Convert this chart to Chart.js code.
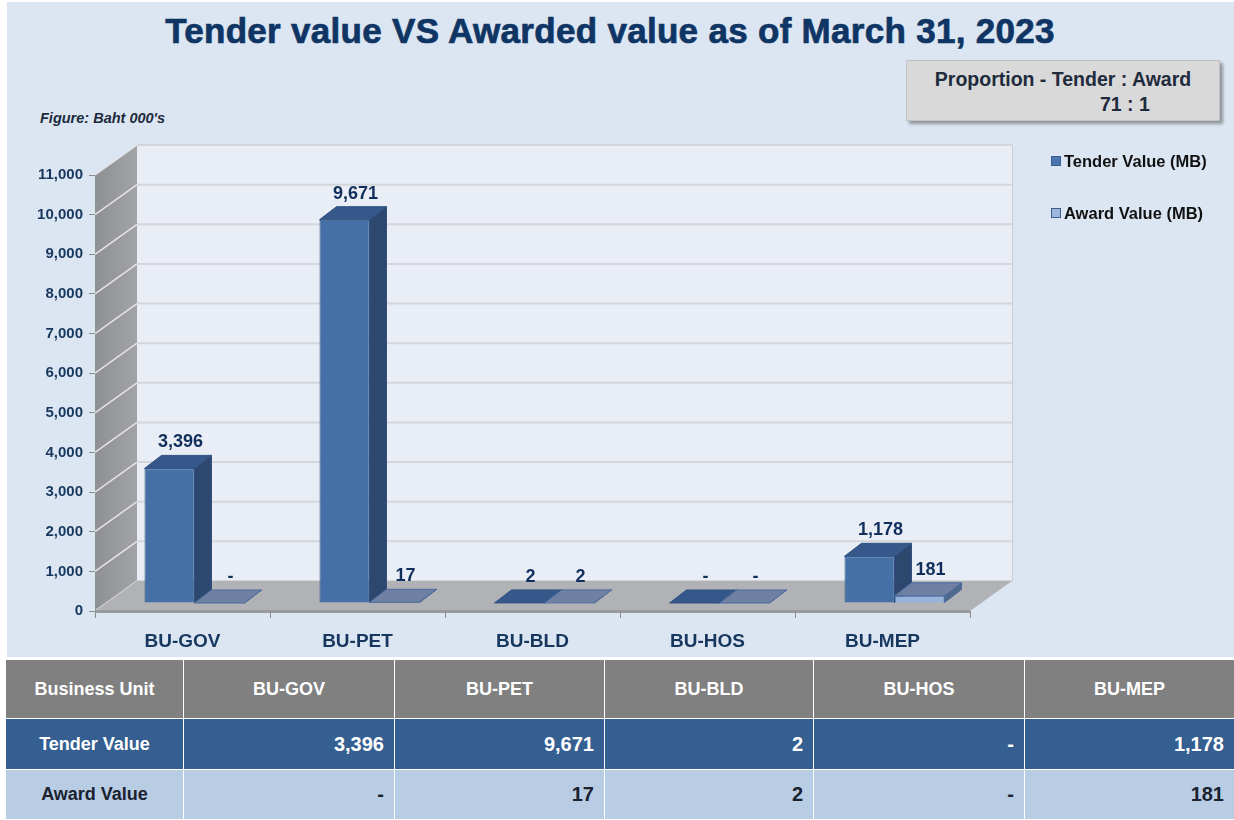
<!DOCTYPE html>
<html>
<head>
<meta charset="utf-8">
<script src="https://cdn.jsdelivr.net/npm/chart.js@4.4.0/dist/chart.umd.min.js"></script>
<style>
    html, body { margin: 0; padding: 0; background: #ffffff; }
    body {
        width: 1234px; height: 820px; position: relative; overflow: hidden;
        font-family: "Liberation Sans", Arial, sans-serif;
    }
    #panel { position: absolute; left: 7px; top: 2px; width: 1227px; height: 655px; background: #dce6f2; }
    #chartBox { position: absolute; left: 0; top: 0; width: 1234px; height: 655px; }
    #title {
        position: absolute; left: 0; top: 11px; width: 1220px; text-align: center;
        font-size: 35px; font-weight: bold; color: #0f3564; letter-spacing: 0.3px;
        -webkit-text-stroke: 0.7px #0f3564;
    }
    #ratioBox {
        position: absolute; left: 906px; top: 60px; width: 312px; height: 59px;
        background: #d9d9d9; border: 1px solid #c0c0c0;
        box-shadow: 3px 3px 3px rgba(0, 0, 0, 0.35);
        color: #1f2b3d; font-size: 19.5px; font-weight: bold;
    }
    #ratioBox .l1 { position: absolute; left: 0; width: 312px; top: 7px; text-align: center; }
    #ratioBox .l2 { position: absolute; left: 193px; top: 32px; }
    #figNote {
        position: absolute; left: 40px; top: 110px;
        font-size: 14.5px; font-weight: bold; font-style: italic; color: #1c2b3c;
    }
    .legend { position: absolute; left: 1051px; font-size: 16.5px; font-weight: bold; color: #111; }
    .legend span.sw {
        display: inline-block; width: 8px; height: 8px; margin-right: 3px;
        border: 1px solid #3c5f92; vertical-align: 1px;
    }
    #dataTable {
        position: absolute; left: 5px; top: 659px; width: 1229px;
        border-collapse: collapse; table-layout: fixed;
    }
    #dataTable td {
        border: 1px solid #ffffff; font-weight: bold; padding: 0 10px;
    }
    #dataTable tr.head td { background: #808080; color: #ffffff; height: 58px; text-align: center; font-size: 18px; }
    #dataTable tr.tender td { background: #355e91; color: #ffffff; height: 50px; text-align: right; font-size: 20px; }
    #dataTable tr.award td { background: #b8cce4; color: #1a2230; height: 49px; text-align: right; font-size: 20px; }
    #dataTable td.rowHead { text-align: center !important; font-size: 18px !important; }
</style>
</head>
<body>
<div id="panel"></div>
<div id="title">Tender value VS Awarded value as of March 31, 2023</div>
<div id="ratioBox"><div class="l1">Proportion - Tender : Award</div><div class="l2">71 : 1</div></div>
<div id="figNote">Figure: Baht 000's</div>
<div id="chartBox"><canvas id="chart" width="1234" height="655"></canvas></div>
<div class="legend" style="top:152px"><span class="sw" style="background:#4a76ad"></span>Tender Value (MB)</div>
<div class="legend" style="top:204px"><span class="sw" style="background:#9bb6dc"></span>Award Value (MB)</div>
<table id="dataTable">
    <colgroup>
        <col style="width:178px"><col style="width:211px"><col style="width:210px">
        <col style="width:209px"><col style="width:211px"><col style="width:210px">
    </colgroup>
    <tbody id="tableBody"></tbody>
</table>
<script>
const categories = ['BU-GOV', 'BU-PET', 'BU-BLD', 'BU-HOS', 'BU-MEP'];
const tenderValues = [3396, 9671, 2, 0, 1178];
const awardValues = [0, 17, 2, 0, 181];
const yMax = 11000;
const yStep = 1000;

const FONT = '"Liberation Sans", Arial, sans-serif';
const NAVY = '#17375e';

// depth of the walls and of the bars (oblique 3D look)
const WALL_DEPTH = { x: 42, y: -30 };
const BAR_SHIFT = { x: 12, y: -8 };
const BAR_DEPTH = { x: 17, y: -13 };

const fmt = v => (v === 0 ? '-' : v.toLocaleString('en-US'));

// table under the chart
const tbody = document.getElementById('tableBody');
const addRow = (cls, first, cells) => {
    const tr = document.createElement('tr');
    tr.className = cls;
    const th = document.createElement('td');
    th.className = 'rowHead';
    th.textContent = first;
    tr.appendChild(th);
    for (const c of cells) {
        const td = document.createElement('td');
        td.textContent = c;
        tr.appendChild(td);
    }
    tbody.appendChild(tr);
};
addRow('head', 'Business Unit', categories);
addRow('tender', 'Tender Value', tenderValues.map(fmt));
addRow('award', 'Award Value', awardValues.map(fmt));

const poly = (ctx, pts, fill, stroke) => {
    ctx.beginPath();
    ctx.moveTo(pts[0][0], pts[0][1]);
    for (let i = 1; i < pts.length; i++) ctx.lineTo(pts[i][0], pts[i][1]);
    ctx.closePath();
    ctx.fillStyle = fill;
    ctx.fill();
    if (stroke) {
        ctx.strokeStyle = stroke;
        ctx.lineWidth = 1;
        ctx.stroke();
    }
};

const walls3d = {
    id: 'walls3d',
    beforeDraw(chart) {
        const { ctx, chartArea: a, scales: { y } } = chart;
        const dx = WALL_DEPTH.x, dy = WALL_DEPTH.y;
        ctx.save();

        // back wall
        ctx.fillStyle = '#e9edf5';
        ctx.fillRect(a.left + dx, a.top + dy, a.right - a.left, a.bottom - a.top);
        ctx.strokeStyle = '#d4d6db';
        ctx.lineWidth = 2;
        for (const t of y.ticks) {
            const py = y.getPixelForValue(t.value) + dy;
            ctx.beginPath();
            ctx.moveTo(a.left + dx, py);
            ctx.lineTo(a.right + dx, py);
            ctx.stroke();
        }
        ctx.lineWidth = 1;
        ctx.strokeStyle = '#c9ccd2';
        ctx.beginPath();
        ctx.moveTo(a.right + dx + 0.5, a.top + dy);
        ctx.lineTo(a.right + dx + 0.5, a.bottom + dy);
        ctx.stroke();

        // left wall
        const g = ctx.createLinearGradient(a.left, 0, a.left + dx, 0);
        g.addColorStop(0, '#8f9094');
        g.addColorStop(1, '#a2a3a7');
        poly(ctx, [[a.left, a.top], [a.left + dx, a.top + dy], [a.left + dx, a.bottom + dy], [a.left, a.bottom]], g);
        ctx.strokeStyle = '#e4e4e6';
        ctx.lineWidth = 1.5;
        for (const t of y.ticks) {
            const py = y.getPixelForValue(t.value);
            ctx.beginPath();
            ctx.moveTo(a.left, py);
            ctx.lineTo(a.left + dx, py + dy);
            ctx.stroke();
        }

        // floor
        poly(ctx, [[a.left, a.bottom], [a.right, a.bottom], [a.right + dx, a.bottom + dy], [a.left + dx, a.bottom + dy]], '#b0b2b6');
        ctx.fillStyle = '#989a9e';
        ctx.fillRect(a.left, a.bottom - 1, a.right - a.left, 3);
        ctx.restore();
    }
};

const bars3d = {
    id: 'bars3d',
    beforeDatasetsDraw(chart) {
        const ctx = chart.ctx;
        ctx.save();
        ctx.translate(BAR_SHIFT.x, BAR_SHIFT.y);
        const bx = BAR_DEPTH.x, by = BAR_DEPTH.y;
        chart.data.datasets.forEach((ds, i) => {
            chart.getDatasetMeta(i).data.forEach(bar => {
                const l = bar.x - bar.width / 2, r = bar.x + bar.width / 2;
                const top = bar.y, base = bar.base;
                poly(ctx, [[r, top], [r + bx, top + by], [r + bx, base + by], [r, base]], ds.sideColor, ds.borderColor);
                poly(ctx, [[l, top], [r, top], [r + bx, top + by], [l + bx, top + by]], ds.topColor, ds.borderColor);
            });
        });
    },
    afterDatasetsDraw(chart) {
        const ctx = chart.ctx;
        ctx.font = 'bold 18px ' + FONT;
        ctx.fillStyle = '#102f5c';
        ctx.textAlign = 'center';
        ctx.textBaseline = 'middle';
        chart.data.datasets.forEach((ds, i) => {
            chart.getDatasetMeta(i).data.forEach((bar, j) => {
                ctx.fillText(fmt(ds.data[j]), bar.x + BAR_DEPTH.x * 0.65, bar.y + BAR_DEPTH.y - 13);
            });
        });
        ctx.restore();
    }
};

const ctx = document.getElementById('chart').getContext('2d');

new Chart(ctx, {
    type: 'bar',
    data: {
        labels: categories,
        datasets: [
            {
                label: 'Tender Value (MB)',
                data: tenderValues,
                backgroundColor: '#4470a5',
                borderColor: '#2f5283',
                borderWidth: 1,
                sideColor: '#2d476e',
                topColor: '#35578a'
            },
            {
                label: 'Award Value (MB)',
                data: awardValues,
                backgroundColor: '#98b4dc',
                borderColor: '#4a6b9f',
                borderWidth: 1,
                sideColor: '#50698f',
                topColor: '#6f80a2'
            }
        ]
    },
    options: {
        responsive: false,
        animation: false,
        layout: { padding: { top: 175, right: 264, left: 0, bottom: 0 } },
        datasets: { bar: { categoryPercentage: 100 / 175, barPercentage: 1, clip: false } },
        plugins: {
            legend: { display: false },
            tooltip: { enabled: false }
        },
        scales: {
            x: {
                grid: { offset: true, drawOnChartArea: false, tickLength: 7, color: '#8c8c8c' },
                border: { display: false },
                ticks: { padding: 12, color: NAVY, font: { family: FONT, size: 19, weight: 'bold' } },
                afterFit: s => { s.height = 44; }
            },
            y: {
                min: 0,
                max: yMax,
                grid: { drawOnChartArea: false, tickLength: 6, color: '#8c8c8c' },
                border: { display: false },
                ticks: {
                    stepSize: yStep,
                    padding: 6,
                    color: NAVY,
                    font: { family: FONT, size: 15, weight: 'bold' },
                    callback: v => v.toLocaleString('en-US')
                },
                afterFit: s => { s.width = 95; }
            }
        }
    },
    plugins: [walls3d, bars3d]
});
</script>
</body>
</html>
